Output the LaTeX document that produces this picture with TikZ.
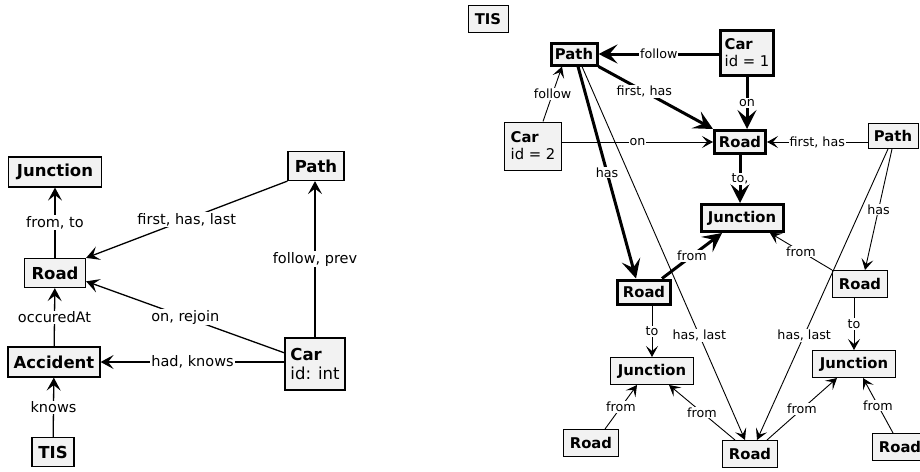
\documentclass[tikz,border=0pt]{standalone}
\usepackage{fontspec}
\setmainfont{DejaVu Sans}
\usetikzlibrary{arrows.meta}
\definecolor{boxgray}{HTML}{F2F2F2}
\begin{document}
\begin{tikzpicture}[x=1pt,y=-1pt,
  lbox/.style={draw=black,fill=boxgray,line width=1.2pt,inner sep=2pt,align=left,
    font=\fontsize{16.5}{19}\selectfont},
  rbox/.style={draw=black,fill=boxgray,line width=1pt,inner sep=2pt,align=left,
    font=\fontsize{14.8}{17}\selectfont},
  rthick/.style={rbox,line width=3pt},
  llbl/.style={fill=white,inner sep=1pt,font=\fontsize{14.5}{16}\selectfont},
  rlbl/.style={fill=white,inner sep=1pt,font=\fontsize{12.7}{14}\selectfont},
  larr/.style={line width=1.3pt,-{Stealth[length=13pt,width=14pt,inset=5.5pt]}},
  rarr/.style={line width=0.9pt,-{Stealth[length=11pt,width=12pt,inset=5pt]}},
  tharr/.style={line width=3pt,-{Stealth[length=19pt,width=19pt,inset=8pt]}}
]
\useasboundingbox (0,0) rectangle (920,471);

% ---------------- left diagram ----------------
\node[lbox,minimum width=93,minimum height=30,align=center] (lJ) at (55,172) {\textbf{Junction}};
\node[lbox,minimum width=61,minimum height=29,align=center] (lR) at (55,273) {\textbf{Road}};
\node[lbox,minimum width=92,minimum height=30,align=center] (lA) at (54,362) {\textbf{Accident}};
\node[lbox,minimum width=42,minimum height=29,align=center] (lT) at (53,452) {\textbf{TIS}};
\node[lbox,minimum width=56,minimum height=29,align=center] (lP) at (316,166) {\textbf{Path}};
\node[lbox,minimum width=60,minimum height=52] (lC) at (315,364) {\textbf{Car}\\id: int};

\draw[larr] (lR) -- node[llbl]{from, to} (lJ);
\draw[larr] (lA) -- node[llbl]{occuredAt} (lR);
\draw[larr] (lT) -- node[llbl]{knows} (lA);
\draw[larr] (lP.south west) -- node[llbl]{first, has, last} (lR.north east);
\draw[larr] (lC.160) -- node[llbl]{on, rejoin} (lR.-15);
\draw[larr] (lC.west |- lA.east) -- node[llbl]{had, knows} (lA.east);
\draw[larr] (lC.north) -- node[llbl]{follow, prev} (lC.north |- lP.south);

% ---------------- right diagram ----------------
\node[rbox,minimum width=40,minimum height=27,align=center] (rT) at (488,19) {\textbf{TIS}};
\node[rthick,minimum width=46,minimum height=22,align=center] (p1) at (574,54) {\textbf{Path}};
\node[rthick,minimum width=53,minimum height=45] (c1) at (747,53) {\textbf{Car}\\id = 1};
\node[rbox,minimum width=57,minimum height=48] (c2) at (533,146) {\textbf{Car}\\id = 2};
\node[rthick,minimum width=51,minimum height=23,align=center] (r1) at (740,142) {\textbf{Road}};
\node[rbox,minimum width=50,minimum height=25,align=center] (p2) at (893,136) {\textbf{Path}};
\node[rthick,minimum width=82,minimum height=27,align=center] (j1) at (742,218) {\textbf{Junction}};
\node[rthick,minimum width=53,minimum height=24,align=center] (r2) at (644,292) {\textbf{Road}};
\node[rbox,minimum width=55,minimum height=27,align=center] (r3) at (860,284) {\textbf{Road}};
\node[rbox,minimum width=83,minimum height=27,align=center] (j2) at (652,371) {\textbf{Junction}};
\node[rbox,minimum width=83,minimum height=27,align=center] (j3) at (854,364) {\textbf{Junction}};
\node[rbox,minimum width=55,minimum height=27,align=center] (r5) at (591,443) {\textbf{Road}};
\node[rbox,minimum width=55,minimum height=27,align=center] (r4) at (750,454) {\textbf{Road}};
\node[rbox,minimum width=55,minimum height=27,align=center] (r6) at (900,447) {\textbf{Road}};

\draw[tharr] (c1.west |- p1.east) -- node[rlbl]{follow} (p1.east);
\draw[tharr] (p1.south east) -- node[rlbl,pos=0.4]{first, has} (r1.north west);
\draw[tharr] (c1.south) -- node[rlbl]{on} (c1.south |- r1.north);
\draw[rarr] ([xshift=10]c2.north) -- node[rlbl]{follow} ([xshift=-12]p1.south);
\draw[rarr] (c2.east |- r1.west) -- node[rlbl]{on} (r1.west);
\draw[rarr] (p2.west |- r1.east) -- node[rlbl]{first, has} (r1.east);
\draw[tharr] (r1.south) -- node[rlbl]{to,} (r1.south |- j1.north);
\draw[tharr] ([xshift=4]p1.south) -- node[rlbl]{has} ([xshift=-8]r2.north);
\draw[rarr] ([xshift=8]p1.south) -- node[rlbl,pos=0.72]{has, last} ([xshift=-5]r4.north);
\draw[rarr] ([xshift=-5]p2.south) -- node[rlbl,pos=0.64]{has, last} ([xshift=7]r4.north);
\draw[rarr] ([xshift=-1]p2.south) -- node[rlbl]{has} ([xshift=5]r3.north);
\draw[tharr] ([xshift=-10]r2.north east) -- node[rlbl]{from} ([xshift=-20]j1.south);
\draw[rarr] (r3.north west) -- node[rlbl]{from} ([xshift=28]j1.south);
\draw[rarr] (r2.south -| j2.north) -- node[rlbl]{to} (j2.north);
\draw[rarr] (r3.south -| j3.north) -- node[rlbl]{to} (j3.north);
\draw[rarr] ([xshift=14]r5.north) -- node[rlbl]{from} ([xshift=-15]j2.south);
\draw[rarr] ([xshift=-15]r4.north) -- node[rlbl]{from} ([xshift=17]j2.south);
\draw[rarr] ([xshift=17]r4.north) -- node[rlbl]{from} ([xshift=-17]j3.south);
\draw[rarr] ([xshift=-7]r6.north) -- node[rlbl]{from} ([xshift=9]j3.south);
\end{tikzpicture}
\end{document}
